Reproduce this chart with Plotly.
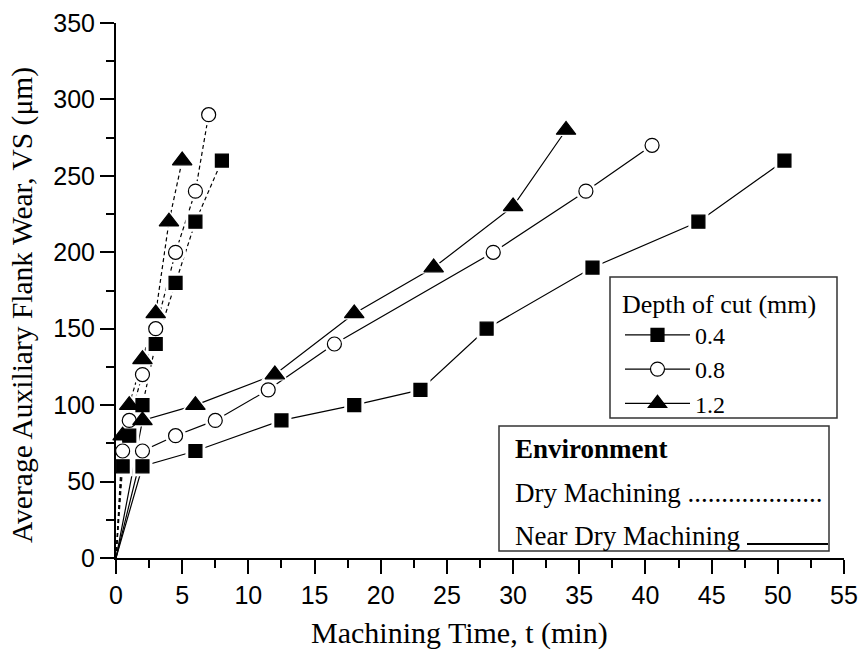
import plotly.graph_objects as go

# Machining time (min) and average auxiliary flank wear VS (um)
# Dry machining
dry_04_t = [0, 0.5, 1, 2, 3, 4.5, 6, 8]
dry_04_vs = [0, 60, 80, 100, 140, 180, 220, 260]
dry_08_t = [0, 0.5, 1, 2, 3, 4.5, 6, 7]
dry_08_vs = [0, 70, 90, 120, 150, 200, 240, 290]
dry_12_t = [0, 0.5, 1, 2, 3, 4, 5]
dry_12_vs = [0, 80, 100, 130, 160, 220, 260]

# Near dry machining
ndm_04_t = [0, 2, 6, 12.5, 18, 23, 28, 36, 44, 50.5]
ndm_04_vs = [0, 60, 70, 90, 100, 110, 150, 190, 220, 260]
ndm_08_t = [0, 2, 4.5, 7.5, 11.5, 16.5, 28.5, 35.5, 40.5]
ndm_08_vs = [0, 70, 80, 90, 110, 140, 200, 240, 270]
ndm_12_t = [0, 2, 6, 12, 18, 24, 30, 34]
ndm_12_vs = [0, 90, 100, 120, 160, 190, 230, 280]

depths = ["0.4", "0.8", "1.2"]
x_ticks = list(range(0, 56, 5))
y_ticks = list(range(0, 351, 50))

SERIF = "Liberation Serif, Times New Roman, serif"
SANS = "Liberation Sans, Arial, sans-serif"

symbols = {"0.4": "square", "0.8": "circle", "1.2": "triangle-up"}
msize = {"0.4": 13, "0.8": 14, "1.2": 17}
mfill = {"0.4": "black", "0.8": "white", "1.2": "black"}

series = [
    ("0.4", dry_04_t, dry_04_vs, "4px,3px"),
    ("0.8", dry_08_t, dry_08_vs, "4px,3px"),
    ("1.2", dry_12_t, dry_12_vs, "4px,3px"),
    ("0.4", ndm_04_t, ndm_04_vs, "solid"),
    ("0.8", ndm_08_t, ndm_08_vs, "solid"),
    ("1.2", ndm_12_t, ndm_12_vs, "solid"),
]

fig = go.Figure()

# connecting lines (from the origin)
for d, t, vs, dash in series:
    fig.add_trace(go.Scatter(x=t, y=vs, mode="lines", showlegend=False,
                             line=dict(color="black", width=1.2, dash=dash),
                             hoverinfo="skip"))

# white halos so the lines stop short of each symbol
for d, t, vs, dash in series:
    fig.add_trace(go.Scatter(x=t[1:], y=vs[1:], mode="markers", showlegend=False,
                             marker=dict(symbol=symbols[d], size=msize[d] + 7,
                                         color="white", line=dict(width=0)),
                             hoverinfo="skip", cliponaxis=False))

# symbols
for d, t, vs, dash in series:
    fig.add_trace(go.Scatter(x=t[1:], y=vs[1:], mode="markers", showlegend=False,
                             marker=dict(symbol=symbols[d], size=msize[d],
                                         color=mfill[d],
                                         line=dict(color="black", width=1.2)),
                             cliponaxis=False))

# legend entries for depth of cut
for d in depths:
    fig.add_trace(go.Scatter(x=[None], y=[None], mode="lines+markers", name=d,
                             line=dict(color="black", width=1.2),
                             marker=dict(symbol=symbols[d], size=msize[d],
                                         color=mfill[d],
                                         line=dict(color="black", width=1.2))))

L, R, T, B = 116, 16, 23, 93
W, H = 860, 651
pw, ph = W - L - R, H - T - B


def px(xp):
    return (xp - L) / pw


def py(yp):
    return (H - B - yp) / ph


axis_common = dict(showline=True, linecolor="black", linewidth=2,
                   ticks="outside", ticklen=14, tickwidth=2, tickcolor="black",
                   showgrid=False, zeroline=False, mirror=False, automargin=False,
                   tickfont=dict(family=SANS, size=25, color="black"))

fig.update_xaxes(range=[0, 55], tickvals=x_ticks,
                 minor=dict(dtick=2.5, ticklen=8, tickwidth=2, tickcolor="black",
                            ticks="outside"),
                 **axis_common)
fig.update_yaxes(range=[0, 350], tickvals=y_ticks,
                 minor=dict(dtick=25, ticklen=8, tickwidth=2, tickcolor="black",
                            ticks="outside"),
                 **axis_common)

# frame behind the depth-of-cut legend
fig.add_shape(type="rect", xref="paper", yref="paper",
              x0=px(610), x1=px(837), y0=py(418), y1=py(277),
              line=dict(color="#333333", width=1.5), fillcolor="white", layer="above")

# Environment key box
fig.add_shape(type="rect", xref="paper", yref="paper",
              x0=px(499), x1=px(829), y0=py(551), y1=py(426),
              line=dict(color="#333333", width=1.5), fillcolor="white", layer="above")
fig.add_shape(type="line", xref="paper", yref="paper",
              x0=px(747), x1=px(828), y0=py(544), y1=py(544),
              line=dict(color="black", width=2), layer="above")

ann = [
    dict(text="<b>Environment</b>", x=px(513), y=py(449)),
    dict(text="Dry Machining " + "." * 20, x=px(513), y=py(493)),
    dict(text="Near Dry Machining", x=px(513), y=py(536)),
]
for a in ann:
    fig.add_annotation(xref="paper", yref="paper", xanchor="left", yanchor="middle",
                       showarrow=False, font=dict(family=SERIF, size=27, color="black"),
                       **a)

# axis titles
fig.add_annotation(text="Machining Time, t (min)", xref="paper", yref="paper",
                   x=px(459), y=py(633), xanchor="center", yanchor="middle",
                   showarrow=False, font=dict(family=SERIF, size=30, color="black"))
fig.add_annotation(text="Average Auxiliary Flank Wear, VS (\u03bcm)", xref="paper",
                   yref="paper", x=px(22), y=py(305), xanchor="center",
                   yanchor="middle", textangle=-90, showarrow=False,
                   font=dict(family=SERIF, size=29.5, color="black"))

fig.update_layout(
    width=W, height=H,
    margin=dict(l=L, r=R, t=T, b=B, autoexpand=False),
    plot_bgcolor="white", paper_bgcolor="white",
    legend=dict(title=dict(text="Depth of cut (mm)",
                           font=dict(family=SERIF, size=26, color="black")),
                font=dict(family=SERIF, size=24, color="black"),
                x=px(620), y=py(279), xanchor="left", yanchor="top",
                borderwidth=0, bgcolor="rgba(0,0,0,0)",
                itemwidth=65, tracegroupgap=0),
)

fig.write_html("out.html")
